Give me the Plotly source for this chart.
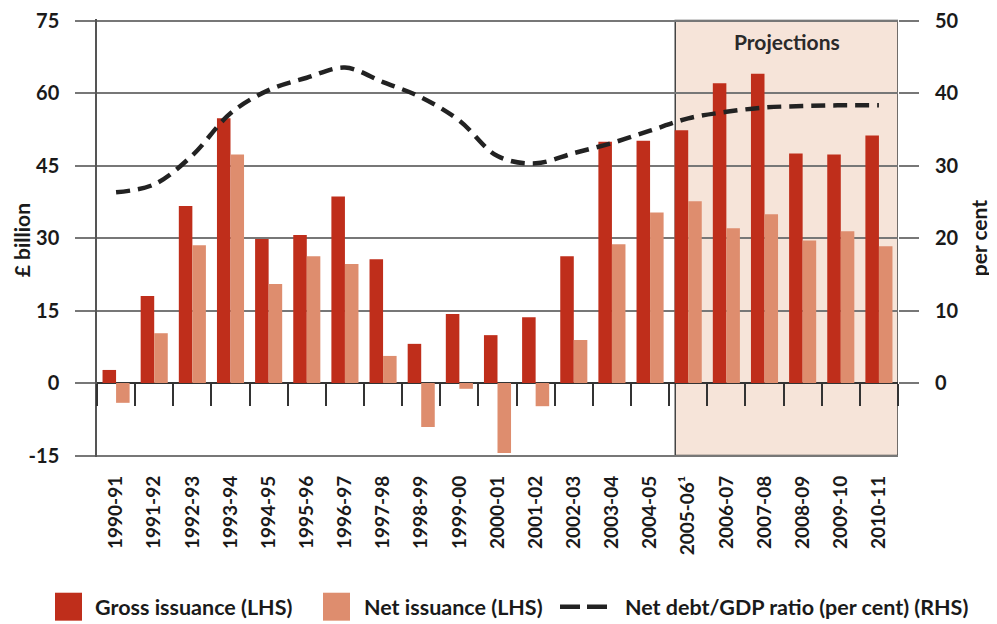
import plotly.graph_objects as go

years = ["1990-91", "1991-92", "1992-93", "1993-94", "1994-95", "1995-96", "1996-97",
         "1997-98", "1998-99", "1999-00", "2000-01", "2001-02", "2002-03", "2003-04",
         "2004-05", "2005-06¹", "2006-07", "2007-08", "2008-09", "2009-10", "2010-11"]
gross = [2.7, 18.0, 36.6, 54.8, 29.8, 30.6, 38.6, 25.6, 8.1, 14.3, 9.9, 13.6, 26.2,
         49.9, 50.1, 52.3, 62.0, 64.0, 47.5, 47.3, 51.2]
net = [-4.1, 10.3, 28.5, 47.3, 20.5, 26.2, 24.6, 5.6, -9.1, -1.2, -14.5, -4.8, 8.9,
       28.7, 35.3, 37.6, 32.0, 34.9, 29.5, 31.4, 28.3]
debt_ratio = [26.3, 27.4, 31.4, 37.2, 40.4, 42.1, 43.5, 41.5, 39.4, 36.2, 31.3, 30.3,
              31.7, 33.1, 34.8, 36.5, 37.4, 38.0, 38.2, 38.3, 38.3]
left_ticks = [75, 60, 45, 30, 15, 0, -15]
right_ticks = [50, 40, 30, 20, 10, 0]
series_names = ["Gross issuance (LHS)", "Net issuance (LHS)",
                "Net debt/GDP ratio (per cent) (RHS)"]

FONT = "Lato, Roboto, sans-serif"
DARK = "#1a1a1a"
C_GROSS = "#BF2E1B"
C_NET = "#DE8D6E"
C_LINE = "#222222"

# page has an 8px body margin, so the figure is sized to fit the window
OFF = 8
PAD = 1.5                      # px of padding above/below the 75 / -15 gridlines
TOP_PAGE, BOT_PAGE = 20.0, 455.6   # page y of 75 and -15
W, H = 997 - OFF, 624 - OFF
L, R = 97 - OFF, 99
T = TOP_PAGE - PAD - OFF
B = H - (BOT_PAGE + PAD - OFF)
PW, PH = W - L - R, H - T - B
d1 = PAD * 90 / (BOT_PAGE - TOP_PAGE)
d2 = PAD * 60 / (BOT_PAGE - TOP_PAGE)
y1_range = [-15 - d1, 75 + d1]
y2_range = [-10 - d2, 50 + d2]


def px(x):  # page pixel -> paper x
    return (x - OFF - L) / PW


def py(y):  # page pixel -> paper y
    return (OFF + H - B - y) / PH


fig = go.Figure()
fig.add_trace(go.Bar(x=years, y=gross, name=series_names[0], showlegend=False,
                     marker=dict(color=C_GROSS, line=dict(width=0))))
fig.add_trace(go.Bar(x=years, y=net, name=series_names[1], showlegend=False,
                     marker=dict(color=C_NET, line=dict(width=0))))
fig.add_trace(go.Scatter(x=years, y=debt_ratio, name=series_names[2], showlegend=False,
                         yaxis="y2", mode="lines",
                         line=dict(color=C_LINE, width=4.5, dash="14px,8px",
                                   shape="spline", smoothing=1)))
# invisible helper trace for category boundary ticks at the zero line
fig.add_trace(go.Scatter(x=years, y=[None] * len(years), xaxis="x2", yaxis="y",
                         showlegend=False, hoverinfo="skip", mode="lines"))

shapes = [dict(type="rect", xref="x", yref="y", x0=14.66, x1=20.5, y0=-15, y1=75,
               fillcolor="#F6E4D9", line=dict(color="#444", width=1.5), layer="below")]
annotations = [
    dict(text="Projections", xref="paper", yref="paper", x=px(787), y=py(41),
         xanchor="center", yanchor="middle", showarrow=False,
         font=dict(size=21, weight="bold", color="#2a2a2a")),
    dict(text="£ billion", xref="paper", yref="paper", x=px(21), y=py(240),
         xanchor="center", yanchor="middle", textangle=-90, showarrow=False,
         font=dict(size=21, weight="bold", color=DARK)),
    dict(text="per cent", xref="paper", yref="paper", x=px(978), y=py(238),
         xanchor="center", yanchor="middle", textangle=-90, showarrow=False,
         font=dict(size=21, weight="bold", color=DARK)),
]

# hand-built legend (tall swatches like the original)
ly0, ly1, lyc = 593, 621, 607
shapes.append(dict(type="rect", xref="paper", yref="paper", x0=px(55), x1=px(82),
                   y0=py(ly1), y1=py(ly0), fillcolor=C_GROSS, line=dict(width=0)))
shapes.append(dict(type="rect", xref="paper", yref="paper", x0=px(323), x1=px(350),
                   y0=py(ly1), y1=py(ly0), fillcolor=C_NET, line=dict(width=0)))
shapes.append(dict(type="line", xref="paper", yref="paper", x0=px(560), x1=px(607),
                   y0=py(lyc), y1=py(lyc), line=dict(color=C_LINE, width=4.5,
                                                     dash="20px,7px")))
for txt, xs in zip(series_names, [93, 362, 623]):
    annotations.append(dict(text=txt, xref="paper", yref="paper", x=px(xs), y=py(lyc),
                            xanchor="left", yanchor="middle", showarrow=False,
                            font=dict(size=21.5, weight="bold", color=DARK)))

fig.update_layout(
    width=W, height=H,
    margin=dict(l=L, r=R, t=T, b=B, autoexpand=False),
    paper_bgcolor="white", plot_bgcolor="white",
    barmode="group", bargap=0.29, bargroupgap=0,
    showlegend=False,
    font=dict(family=FONT, color=DARK, size=20, weight="bold"),
    xaxis=dict(type="category", tickangle=-90, ticks="", showgrid=False,
               showline=False, zeroline=False, range=[-0.5, 20.5], automargin=False,
               tickfont=dict(size=19, weight="bold"), ticklabelstandoff=14),
    xaxis2=dict(type="category", overlaying="x", matches="x", anchor="free",
                position=(0 - y1_range[0]) / (y1_range[1] - y1_range[0]),
                side="bottom", showgrid=False, showline=False,
                zeroline=False, showticklabels=False, ticks="outside", automargin=False,
                tickson="boundaries", ticklen=22, tickwidth=1.5, tickcolor="#333"),
    yaxis=dict(range=y1_range, tickvals=left_ticks,
               ticktext=[str(v) for v in left_ticks], ticks="outside", ticklen=20,
               tickcolor="#777", tickwidth=1.5, showgrid=True, gridcolor="#777",
               gridwidth=1.5, zeroline=True, zerolinecolor="#333", zerolinewidth=1.5,
               showline=True, linecolor="#555", linewidth=1.5, automargin=False,
               ticklabeloverflow="allow",
               tickfont=dict(size=20, weight="bold"), ticklabelstandoff=12),
    yaxis2=dict(range=y2_range, tickvals=right_ticks,
                ticktext=[str(v) for v in right_ticks], overlaying="y", side="right",
                ticks="outside", ticklen=20, tickcolor="#777", tickwidth=1.5,
                showgrid=False, zeroline=False, showline=False, automargin=False,
                ticklabeloverflow="allow",
                tickfont=dict(size=20, weight="bold"), ticklabelstandoff=12),
    shapes=shapes,
    annotations=annotations,
)

fig.write_html("out.html")
